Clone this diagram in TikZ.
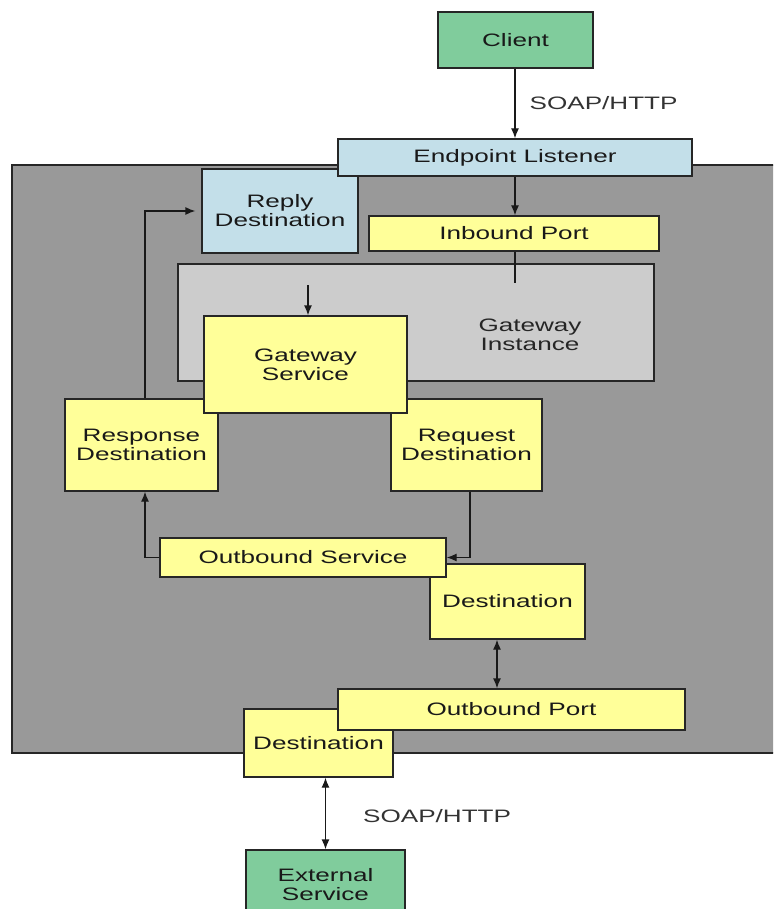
\documentclass[tikz,border=0pt]{standalone}
\usepackage{fontspec}
\setmainfont{Liberation Sans}[FakeStretch=1.45]
\usetikzlibrary{arrows.meta}
\definecolor{yel}{HTML}{FFFF99}
\definecolor{lblue}{HTML}{C3DFE9}
\definecolor{grn}{HTML}{80CC9C}
\definecolor{dgray}{HTML}{999999}
\definecolor{lgray}{HTML}{CCCCCC}
\definecolor{edge}{HTML}{262626}
\begin{document}
\begin{tikzpicture}[x=1pt,y=-1pt,
  box/.style={draw=edge, line width=1.3pt, inner sep=0pt, align=center,
    font=\fontsize{18}{19}\selectfont, text=black!90},
  ybox/.style={box, fill=yel},
  bbox/.style={box, fill=lblue},
  gbox/.style={box, fill=grn},
  conn/.style={line width=1.3pt, draw=black!90},
  arr/.style={conn, -{Latex[length=10pt,width=8pt]}},
  darr/.style={conn, {Latex[length=10pt,width=8pt]}-{Latex[length=10pt,width=8pt]}},
  lbl/.style={font=\fontsize{18}{19}\selectfont, text=black!80, inner sep=0pt}]
\useasboundingbox (0,0) rectangle (773,909);
\clip (0,0) rectangle (773,909);
% outer gateway area
\fill[dgray] (12,165) rectangle (780,753);
\draw[edge, line width=1.8pt] (780,165) -- (12,165) -- (12,753) -- (780,753);
% gateway instance
\node[box, fill=lgray, minimum width=476pt, minimum height=117pt] (GI) at (416,322.5) {};
\node[lbl, align=center, text=black!85] (GIt) at (530,335) {Gateway\\Instance};
% boxes
\node[bbox, minimum width=156pt, minimum height=84pt] (RpD) at (280,211) {Reply\\Destination};
\node[bbox, minimum width=354pt, minimum height=37pt] (EL) at (515,157.5) {Endpoint Listener};
\node[ybox, minimum width=290pt, minimum height=35pt] (IP) at (514,233.5) {Inbound Port};
\node[ybox, minimum width=153pt, minimum height=92pt] (RsD) at (141.5,445) {Response\\Destination};
\node[ybox, minimum width=151pt, minimum height=92pt] (RqD) at (466.5,445) {Request\\Destination};
\node[ybox, minimum width=203pt, minimum height=97pt] (GS) at (305.5,364.5) {Gateway\\Service};
\node[ybox, minimum width=155pt, minimum height=75pt] (Dm) at (507.5,601.5) {Destination};
\node[ybox, minimum width=286pt, minimum height=39pt] (OS) at (303,557.5) {Outbound Service};
\node[ybox, minimum width=149pt, minimum height=68pt] (Dl) at (318.5,743) {Destination};
\node[ybox, minimum width=347pt, minimum height=41pt] (OP) at (511.5,709.5) {Outbound Port};
\node[gbox, minimum width=155pt, minimum height=56pt] (Cl) at (515.5,40) {Client};
\node[gbox, minimum width=159pt, minimum height=70pt] (ES) at (325.5,885) {External\\Service};
% connectors
\draw[arr] (Cl.south -| EL.north) -- (EL.north)
  node[lbl, midway, right=14pt] (s1) {SOAP/HTTP};
\draw[arr] (EL.south) -- (EL.south |- IP.north);
\coordinate (ipEnd) at (515,283);
\draw[conn] (IP.south -| ipEnd) -- (ipEnd);
\coordinate (gsStart) at (308,285);
\draw[arr] (gsStart) -- (gsStart |- GS.north);
\draw[arr, shorten >=6pt] ([xshift=3.5pt]RsD.north) |- (RpD.west);
\draw[arr] (OS.west) -| ([xshift=3.5pt]RsD.south);
\draw[arr] ([xshift=3.5pt]RqD.south) |- (OS.east);
\draw[darr] ([xshift=-10.5pt]Dm.south) -- ([xshift=-10.5pt]Dm.south |- OP.north);
\draw[darr] (ES.north) -- (ES.north |- Dl.south)
  node[lbl, midway, anchor=west, xshift=37pt, yshift=-3pt] (s2) {SOAP/HTTP};
\end{tikzpicture}
\end{document}
